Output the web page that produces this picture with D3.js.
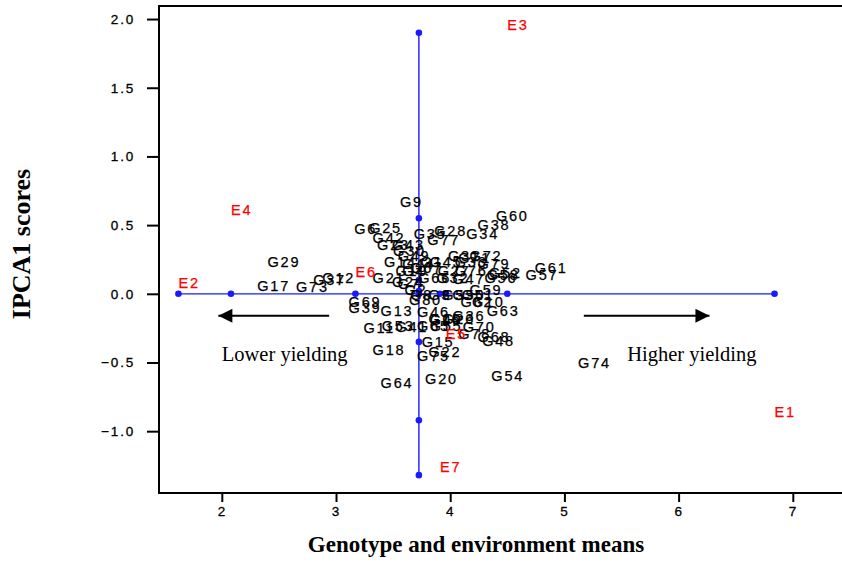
<!DOCTYPE html>
<html>
<head>
<meta charset="utf-8">
<script src="https://cdn.jsdelivr.net/npm/d3@7"></script>
<style>
  html, body { margin: 0; padding: 0; background: #fff; }
  svg { display: block; }
</style>
</head>
<body>
<svg id="chart" width="842" height="563"></svg>
<script>
// Environments: mean yield and IPCA1 score
const envNames = ["E1", "E2", "E3", "E4", "E5", "E6", "E7"];
const envMeans = [6.84, 1.62, 4.50, 2.08, 3.96, 3.17, 3.91];
const envIPCA  = [-0.92, 0.02, 1.90, 0.55, -0.35, 0.10, -1.32];

// Genotypes: mean yield and IPCA1 score
const genoNames = [
  "G1","G2","G3","G4","G5","G6","G7","G8","G9","G10",
  "G11","G12","G13","G14","G15","G16","G17","G18","G19","G20",
  "G21","G22","G23","G24","G25","G26","G27","G28","G29","G30",
  "G31","G32","G33","G34","G35","G36","G37","G38","G39","G40",
  "G41","G42","G43","G44","G45","G46","G47","G48","G49","G50",
  "G51","G52","G53","G54","G55","G56","G57","G58","G59","G60",
  "G61","G62","G63","G64","G65","G66","G67","G68","G69","G70",
  "G71","G72","G73","G74","G75","G76","G77","G78","G79","G80"
];
const genoMeans = [
  3.74, 3.60, 3.81, 3.58, 3.93, 3.16, 3.54, 3.65, 3.56, 4.19,
  3.24, 2.88, 3.39, 3.42, 3.75, 3.81, 2.31, 3.32, 3.52, 3.78,
  3.32, 3.81, 3.36, 3.49, 3.29, 3.93, 3.89, 3.86, 2.40, 3.50,
  3.98, 3.88, 4.04, 4.14, 3.68, 4.02, 2.80, 4.24, 3.11, 3.82,
  3.52, 3.32, 3.49, 3.58, 3.82, 3.71, 4.02, 4.28, 3.54, 4.02,
  4.10, 4.34, 3.40, 4.36, 3.82, 4.30, 4.66, 4.32, 4.17, 4.40,
  4.74, 4.09, 4.32, 3.39, 3.71, 3.72, 3.65, 4.24, 3.11, 4.11,
  4.07, 4.17, 2.65, 5.12, 3.71, 4.04, 3.80, 4.07, 4.24, 3.64
];
const genoIPCA = [
  0.17, -0.03, -0.07, 0.11, -0.07, 0.41, 0.01, -0.07, 0.61, -0.12,
  -0.31, 0.06, -0.18, 0.17, -0.41, -0.24, 0.00, -0.47, 0.11, -0.68,
  0.06, -0.48, 0.30, 0.03, 0.42, -0.24, 0.11, 0.40, 0.17, 0.25,
  0.22, 0.06, 0.17, 0.38, 0.38, -0.22, 0.04, 0.44, -0.16, -0.25,
  -0.30, 0.35, 0.30, 0.16, 0.17, -0.19, 0.05, -0.40, 0.22, -0.07,
  -0.07, 0.09, -0.29, -0.66, -0.29, 0.06, 0.08, 0.08, -0.03, 0.51,
  0.13, -0.12, -0.18, -0.71, -0.29, 0.06, 0.13, -0.37, -0.12, -0.30,
  0.20, 0.22, -0.01, -0.56, -0.51, 0.11, 0.33, -0.35, 0.16, -0.10
];

// Axis ticks
const xTicks = [2, 3, 4, 5, 6, 7];
const yTicks = [-1.0, -0.5, 0.0, 0.5, 1.0, 1.5, 2.0];

// Direction notes below the mean line
const notes = [
  { text: "Lower yielding",  x: 2.00, y: -0.49, from: 2.94, to: 1.97 },
  { text: "Higher yielding", x: 5.55, y: -0.49, from: 5.17, to: 6.27 }
];
const noteArrowY = -0.16;

const svg = d3.select("#chart");
const plotLeft = 159, plotRight = 844.2, plotTop = 6, plotBottom = 493;

const x = d3.scaleLinear().domain([1.45, 7.45]).range([plotLeft, plotRight]);
const y = d3.scaleLinear().domain([-1.45, 2.095]).range([plotBottom, plotTop]);

const grandMean = d3.mean(envMeans);

// Frame
svg.append("rect")
  .attr("x", plotLeft).attr("y", plotTop)
  .attr("width", plotRight - plotLeft).attr("height", plotBottom - plotTop)
  .attr("fill", "none").attr("stroke", "#000").attr("stroke-width", 2);

// Axes
const tickFont = "Liberation Sans, Arial, sans-serif";
const yAxis = svg.append("g")
  .attr("transform", `translate(${plotLeft},0)`)
  .call(d3.axisLeft(y).tickValues(yTicks).tickFormat(d3.format(".1f"))
    .tickSize(12).tickPadding(12));
const xAxis = svg.append("g")
  .attr("transform", `translate(0,${plotBottom})`)
  .call(d3.axisBottom(x).tickValues(xTicks).tickFormat(d3.format("d"))
    .tickSize(9).tickPadding(4));
[xAxis, yAxis].forEach(g => {
  g.select(".domain").remove();
  g.selectAll(".tick line").attr("stroke", "#000").attr("stroke-width", 2);
  g.selectAll(".tick text")
    .attr("fill", "#000")
    .attr("stroke", "#000").attr("stroke-width", 0.3)
    .style("font-family", tickFont)
    .style("font-size", "13.5px")
    .style("letter-spacing", "1.8px");
});

// Axis titles
svg.append("text")
  .attr("x", 476).attr("y", 552)
  .attr("text-anchor", "middle")
  .style("font-family", "Liberation Serif, Times New Roman, serif")
  .style("font-weight", "bold")
  .style("font-size", "23px")
  .text("Genotype and environment means");

svg.append("text")
  .attr("transform", "translate(30,244) rotate(-90)")
  .attr("text-anchor", "middle")
  .style("font-family", "Liberation Serif, Times New Roman, serif")
  .style("font-weight", "bold")
  .style("font-size", "26px")
  .text("IPCA1 scores");

// Environment spokes: mean line at IPCA1 = 0 and grand-mean line
const blue = "#1a1aff";
svg.append("line")
  .attr("x1", x(d3.min(envMeans))).attr("x2", x(d3.max(envMeans)))
  .attr("y1", y(0)).attr("y2", y(0))
  .attr("stroke", blue).attr("stroke-width", 1.2);
svg.append("line")
  .attr("x1", x(grandMean)).attr("x2", x(grandMean))
  .attr("y1", y(d3.min(envIPCA))).attr("y2", y(d3.max(envIPCA)))
  .attr("stroke", blue).attr("stroke-width", 1.4);

svg.append("g").selectAll("circle")
  .data(envMeans.concat([grandMean]))
  .join("circle")
  .attr("cx", d => x(d)).attr("cy", y(0)).attr("r", 3.3)
  .attr("fill", blue);
svg.append("g").selectAll("circle")
  .data(envIPCA.concat([0]))
  .join("circle")
  .attr("cx", x(grandMean)).attr("cy", d => y(d)).attr("r", 3.3)
  .attr("fill", blue);

// Arrows and notes
const defs = svg.append("defs");
defs.append("marker")
  .attr("id", "head")
  .attr("viewBox", "0 0 10 10")
  .attr("refX", 10).attr("refY", 5)
  .attr("markerWidth", 8.5).attr("markerHeight", 7)
  .attr("markerUnits", "strokeWidth")
  .attr("orient", "auto")
  .append("path").attr("d", "M0,0 L10,5 L0,10 Z").attr("fill", "#000");

svg.append("g").selectAll("line")
  .data(notes)
  .join("line")
  .attr("x1", d => x(d.from)).attr("x2", d => x(d.to))
  .attr("y1", y(noteArrowY)).attr("y2", y(noteArrowY))
  .attr("stroke", "#000").attr("stroke-width", 2)
  .attr("marker-end", "url(#head)");

svg.append("g").selectAll("text")
  .data(notes)
  .join("text")
  .attr("x", d => x(d.x)).attr("y", d => y(d.y))
  .style("font-family", "Liberation Serif, Times New Roman, serif")
  .style("font-size", "20.5px")
  .text(d => d.text);

// Point labels (text begins at the point, sitting just above it)
const labelFont = "Liberation Sans, Arial, sans-serif";
const genotypes = genoNames.map((n, i) => ({ name: n, m: genoMeans[i], s: genoIPCA[i] }));
svg.append("g").selectAll("text")
  .data(genotypes)
  .join("text")
  .attr("x", d => x(d.m)).attr("y", d => y(d.s) - 3)
  .attr("fill", "#000")
  .attr("stroke", "#000").attr("stroke-width", 0.25)
  .style("font-family", labelFont)
  .style("font-size", "14.5px")
  .style("letter-spacing", "1.8px")
  .text(d => d.name);

const environments = envNames.map((n, i) => ({ name: n, m: envMeans[i], s: envIPCA[i] }));
svg.append("g").selectAll("text")
  .data(environments)
  .join("text")
  .attr("x", d => x(d.m)).attr("y", d => y(d.s) - 3)
  .attr("fill", "#ff0000")
  .attr("stroke", "#ff0000").attr("stroke-width", 0.25)
  .style("font-family", labelFont)
  .style("font-size", "14.5px")
  .style("letter-spacing", "1.8px")
  .text(d => d.name);
</script>
</body>
</html>
